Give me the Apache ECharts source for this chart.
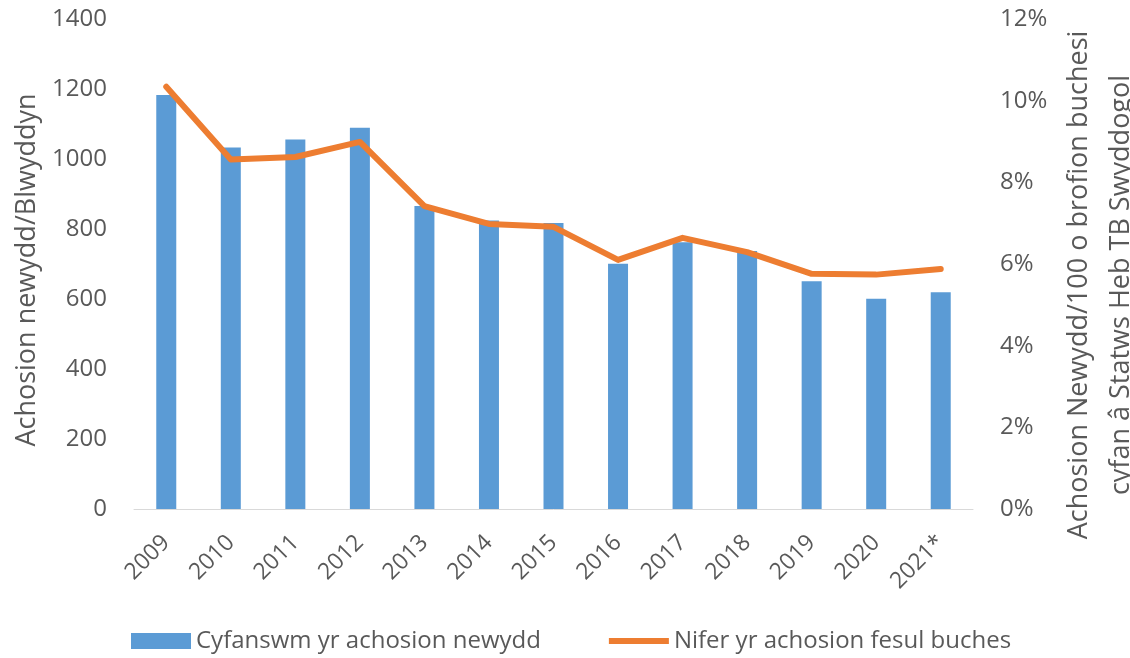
<!DOCTYPE html>
<html>
<head>
<meta charset="utf-8">
<script src="https://cdn.jsdelivr.net/npm/echarts@6/dist/echarts.min.js"></script>
<style>
  html, body { margin: 0; padding: 0; background: #fff; }
  #chart { width: 1130px; height: 658px; }
</style>
</head>
<body>
<div id="chart"></div>
<script>
// data
const years = ['2009', '2010', '2011', '2012', '2013', '2014', '2015', '2016', '2017', '2018', '2019', '2020', '2021*']
const newCases = [1183, 1033, 1056, 1089, 866, 824, 817, 701, 762, 737, 651, 601, 619]
const casesPerHerd = [10.34, 8.56, 8.62, 8.99, 7.42, 6.98, 6.91, 6.1, 6.64, 6.29, 5.76, 5.74, 5.88]

const font = 'Open Sans'
const grey = '#595959'

let chart = echarts.init(document.getElementById('chart'))
chart.setOption({
  animation: false,
  textStyle: { fontFamily: font },
  grid: { left: 134, right: 157, top: 19, bottom: 149, outerBoundsMode: 'none', containLabel: false },
  legend: {
    left: 126,
    bottom: 0,
    itemWidth: 60,
    itemHeight: 16,
    itemGap: 68,
    textStyle: { fontSize: 24, color: grey, fontFamily: font },
    data: [
      { name: 'Cyfanswm yr achosion newydd', icon: 'rect' },
      { name: 'Nifer yr achosion fesul buches', icon: 'path://M0,0 L60,0 L60,6 L0,6 Z' },
    ],
  },
  xAxis: {
    type: 'category',
    data: years,
    axisLine: { lineStyle: { color: '#d9d9d9' } },
    axisTick: { show: false },
    axisLabel: { rotate: 45, fontSize: 23, color: grey, margin: 30 },
  },
  yAxis: [
    {
      type: 'value',
      min: 0,
      max: 1400,
      interval: 200,
      name: 'Achosion newydd/Blwyddyn',
      nameLocation: 'middle',
      nameGap: 90,
      nameTextStyle: { fontSize: 27, color: grey, padding: [0, 12, 0, 0] },
      splitLine: { show: false },
      axisLine: { show: false },
      axisLabel: { fontSize: 24, color: grey, margin: 27, formatter: v => String(v) },
    },
    {
      type: 'value',
      min: 0,
      max: 12,
      interval: 2,
      name: 'Achosion Newydd/100 o brofion buchesi\ncyfan â Statws Heb TB Swyddogol',
      nameLocation: 'middle',
      nameGap: 79,
      nameTextStyle: { fontSize: 27, color: grey, lineHeight: 42, padding: [0, 42, 0, 0] },
      splitLine: { show: false },
      axisLine: { show: false },
      axisLabel: { fontSize: 24, color: grey, margin: 27, formatter: '{value}%' },
    },
  ],
  series: [
    {
      name: 'Cyfanswm yr achosion newydd',
      type: 'bar',
      data: newCases,
      barWidth: 20,
      itemStyle: { color: '#5b9bd5' },
    },
    {
      name: 'Nifer yr achosion fesul buches',
      type: 'line',
      yAxisIndex: 1,
      data: casesPerHerd,
      symbol: 'none',
      lineStyle: { color: '#ed7d31', width: 6, cap: 'round', join: 'round' },
      itemStyle: { color: '#ed7d31' },
    },
  ],
})
</script>
</body>
</html>
